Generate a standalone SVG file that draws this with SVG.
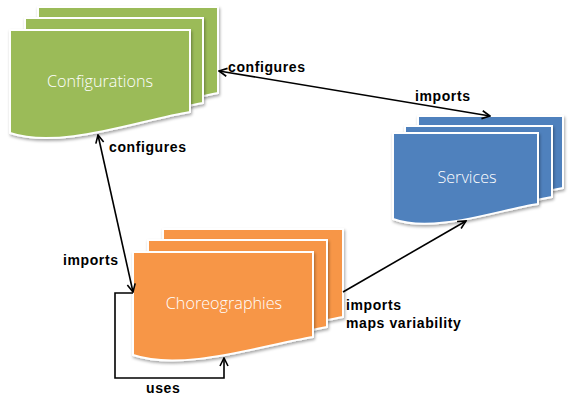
<svg xmlns="http://www.w3.org/2000/svg" width="580" height="404" viewBox="0 0 580 404">
<style>
.sheet{stroke:#fff;stroke-width:2;filter:url(#sh)}
.g{fill:#9BBB59}.b{fill:#4F81BD}.o{fill:#F79646}
.nt{font-family:"Open Sans","DejaVu Sans",sans-serif;font-weight:300;font-size:16.2px;fill:#fff;text-anchor:middle}
.lb{font-family:"Liberation Sans",Arial,sans-serif;font-weight:bold;font-size:14px;letter-spacing:0.6px;fill:#000}
.cn{fill:none;stroke:#000;stroke-width:1.6}
</style>
<defs>
<filter id="sh" x="-10%" y="-10%" width="125%" height="130%">
<feDropShadow dx="1" dy="2" stdDeviation="1.5" flood-color="#000" flood-opacity="0.35"/>
</filter>
<marker id="ah" viewBox="0 0 10 10" refX="9" refY="5" markerWidth="10" markerHeight="10" markerUnits="userSpaceOnUse" orient="auto-start-reverse">
<path d="M1,1 L9,5 L1,9" fill="none" stroke="#000" stroke-width="1.6"/>
</marker>
</defs>
<g id="configurations">
<path class="sheet g" d="M38,7 H218 V93 C190,98 150,110 100,115 L38,115 Z"/>
<path class="sheet g" d="M25,18 H203 V103 C175,108 140,118 90,122 L25,122 Z"/>
<path class="sheet g" d="M10,30 H190 V112 C140,120 60,150 10,133 Z"/>
<text class="nt" x="100" y="87">Configurations</text>
</g>
<g id="services">
<path class="sheet b" d="M418,116 H563 V188 C540,192 510,200 480,204 L418,204 Z"/>
<path class="sheet b" d="M405,126 H552 V197 C530,201 500,208 470,212 L405,212 Z"/>
<path class="sheet b" d="M393,133 H538 V204 C498,210 433,234 393,219 Z"/>
<text class="nt" x="467" y="183">Services</text>
</g>
<g id="choreographies">
<path class="sheet o" d="M163,229 H343 V317 C315,322 275,332 230,336 L163,336 Z"/>
<path class="sheet o" d="M148,240 H327 V327 C300,332 260,342 215,346 L148,346 Z"/>
<path class="sheet o" d="M133,252 H313 V337 C263,345 183,372 133,355 Z"/>
<text class="nt" x="224" y="309">Choreographies</text>
</g>
<g id="connectors">
<line class="cn" x1="219" y1="71" x2="490" y2="116" marker-start="url(#ah)" marker-end="url(#ah)"/>
<line class="cn" x1="98" y1="135" x2="133" y2="292" marker-start="url(#ah)" marker-end="url(#ah)"/>
<polyline class="cn" points="133,293 115,293 115,378 224,378 224,358" marker-end="url(#ah)"/>
<line class="cn" x1="343" y1="292" x2="466" y2="221" marker-end="url(#ah)"/>
<text class="lb" x="228" y="72">configures</text>
<text class="lb" x="415" y="101">imports</text>
<text class="lb" x="109" y="152">configures</text>
<text class="lb" x="63" y="265">imports</text>
<text class="lb" x="346" y="310">imports</text>
<text class="lb" x="346" y="328">maps variability</text>
<text class="lb" x="146" y="393">uses</text>
</g>
</svg>
